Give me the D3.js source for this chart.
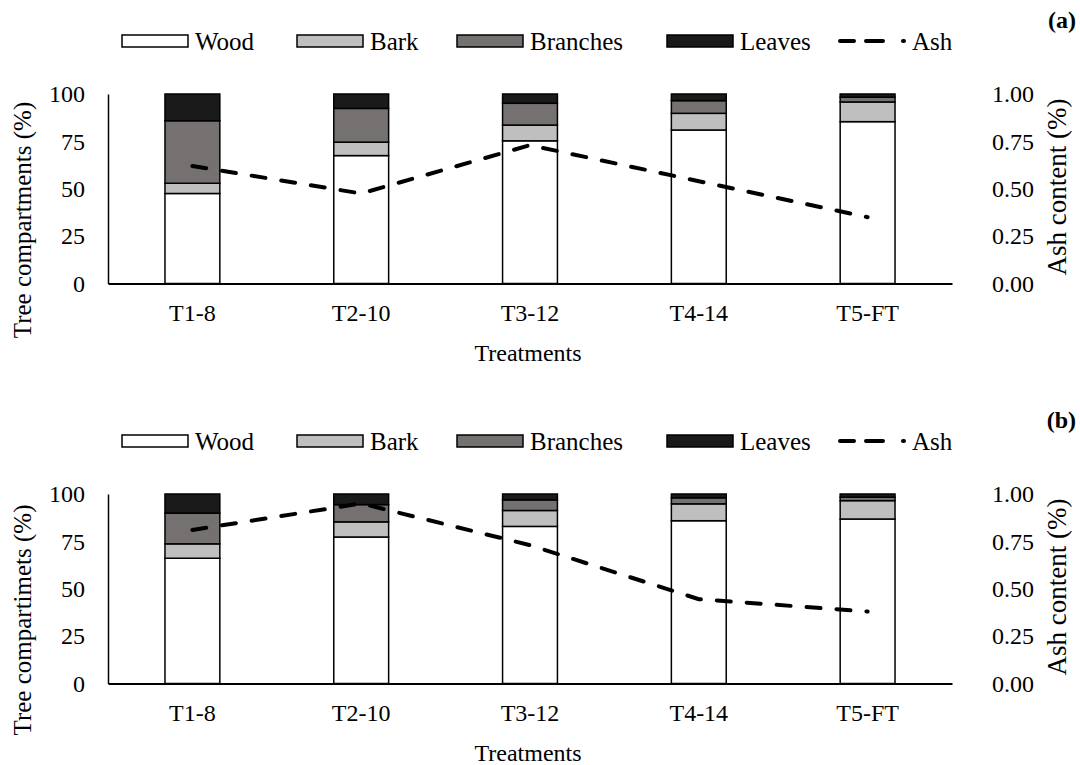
<!DOCTYPE html>
<html>
<head>
<meta charset="utf-8">
<script src="https://cdn.jsdelivr.net/npm/d3@7"></script>
<style>
  html, body { margin: 0; padding: 0; background: #fff; }
  svg { display: block; }
  text { font-family: "Liberation Serif", "Times New Roman", serif; fill: #000; }
</style>
</head>
<body>
<svg id="chart" width="1080" height="765"></svg>
<script>
// ---- Data ----
const categories = ["T1-8", "T2-10", "T3-12", "T4-14", "T5-FT"];
const components = ["Wood", "Bark", "Branches", "Leaves"];
const colors = ["#ffffff", "#bfbfbf", "#767171", "#1a1a1a"];

// Panel (a) – tree compartments (%)
const woodA     = [47.5, 67.5, 75.3, 81.0, 85.4];
const barkA     = [5.4, 7.1, 8.3, 8.8, 10.4];
const branchesA = [33.0, 17.8, 11.5, 6.7, 2.5];
const leavesA   = [14.1, 7.6, 4.9, 3.5, 1.7];
const ashA      = [0.62, 0.475, 0.73, 0.54, 0.35];

// Panel (b)
const woodB     = [66.1, 77.3, 82.9, 85.9, 86.8];
const barkB     = [7.6, 8.0, 8.4, 8.9, 9.7];
const branchesB = [16.2, 9.1, 5.6, 3.2, 1.8];
const leavesB   = [10.1, 5.6, 3.1, 2.0, 1.7];
const ashB      = [0.81, 0.95, 0.73, 0.445, 0.38];

const leftTicks = [0, 25, 50, 75, 100];
const rightTicks = [0, 0.25, 0.5, 0.75, 1.0];

const panels = [
  { tag: "(a)", top: 0, yTitle: "Tree compartments (%)",
    series: [woodA, barkA, branchesA, leavesA], ash: ashA },
  { tag: "(b)", top: 400, yTitle: "Tree compartimets (%)",
    series: [woodB, barkB, branchesB, leavesB], ash: ashB }
];

const svg = d3.select("#chart");
const TICK_FS = 24, LEG_FS = 25, TITLE_FS = 25;

panels.forEach(p => {
  const g = svg.append("g").attr("transform", `translate(0,${p.top})`);
  const x0 = 108, x1 = 952, yTop = 94, yBot = 283.5;

  const x = d3.scaleBand().domain(categories).range([x0, x1]).paddingInner(0.675).paddingOuter(0.3375);
  const y = d3.scaleLinear().domain([0, 100]).range([yBot, yTop]);
  const y2 = d3.scaleLinear().domain([0, 1]).range([yBot, yTop]);

  // stacked data
  const rows = categories.map((c, i) => {
    const r = { cat: c };
    components.forEach((k, j) => r[k] = p.series[j][i]);
    return r;
  });
  const stack = d3.stack().keys(components)(rows);

  // bars
  stack.forEach((layer, j) => {
    g.append("g").selectAll("rect").data(layer).join("rect")
      .attr("x", d => x(d.data.cat))
      .attr("width", x.bandwidth())
      .attr("y", d => y(d[1]))
      .attr("height", d => y(d[0]) - y(d[1]))
      .attr("fill", colors[j])
      .attr("stroke", "#000")
      .attr("stroke-width", 1.5);
  });

  // left axis
  const ya = g.append("g").attr("transform", `translate(${x0},0)`)
    .call(d3.axisLeft(y).tickValues(leftTicks).tickSize(0).tickPadding(23));
  ya.select(".domain").attr("stroke", "#000").attr("stroke-width", 1.5);
  ya.selectAll("text").attr("font-size", TICK_FS).attr("font-family", "Liberation Serif");

  // right axis (labels only)
  const ya2 = g.append("g").attr("transform", `translate(${x1},0)`)
    .call(d3.axisRight(y2).tickValues(rightTicks).tickSize(0).tickPadding(40).tickFormat(d3.format(".2f")));
  ya2.select(".domain").remove();
  ya2.selectAll("text").attr("font-size", TICK_FS).attr("font-family", "Liberation Serif");

  // x axis
  const xa = g.append("g").attr("transform", `translate(0,${yBot})`)
    .call(d3.axisBottom(x).tickSize(0).tickPadding(20));
  xa.select(".domain").attr("stroke", "#000").attr("stroke-width", 2);
  xa.selectAll("text").attr("font-size", TICK_FS).attr("font-family", "Liberation Serif");

  // ash line
  const line = d3.line().x((d, i) => x(categories[i]) + x.bandwidth() / 2).y(d => y2(d));
  g.append("path").datum(p.ash).attr("d", line)
    .attr("fill", "none").attr("stroke", "#000").attr("stroke-width", 4)
    .attr("stroke-dasharray", "14,16").attr("stroke-linecap", "round");

  // axis titles
  g.append("text").attr("transform", `translate(31,220) rotate(-90)`)
    .attr("text-anchor", "middle").attr("font-size", TITLE_FS).text(p.yTitle);
  g.append("text").attr("transform", `translate(1066,187) rotate(-90)`)
    .attr("text-anchor", "middle").attr("font-size", 27).text("Ash content (%)");
  g.append("text").attr("x", 528).attr("y", 361)
    .attr("text-anchor", "middle").attr("font-size", TICK_FS).text("Treatments");

  // panel tag
  g.append("text").attr("x", 1076).attr("y", 28).attr("text-anchor", "end")
    .attr("font-size", 24).attr("font-weight", "bold").text(p.tag);

  // legend
  const legX = [122, 297, 457, 667];
  const lg = g.append("g");
  components.forEach((k, j) => {
    lg.append("rect").attr("x", legX[j]).attr("y", 35).attr("width", 66).attr("height", 12)
      .attr("fill", colors[j]).attr("stroke", "#000").attr("stroke-width", 1.5);
    lg.append("text").attr("x", legX[j] + 73).attr("y", 50).attr("font-size", LEG_FS).text(k);
  });
  lg.append("line").attr("x1", 840).attr("x2", 907).attr("y1", 41).attr("y2", 41)
    .attr("stroke", "#000").attr("stroke-width", 4)
    .attr("stroke-dasharray", "14,12,17,20,1").attr("stroke-linecap", "round");
  lg.append("text").attr("x", 912).attr("y", 50).attr("font-size", LEG_FS).text("Ash");
});
</script>
</body>
</html>
